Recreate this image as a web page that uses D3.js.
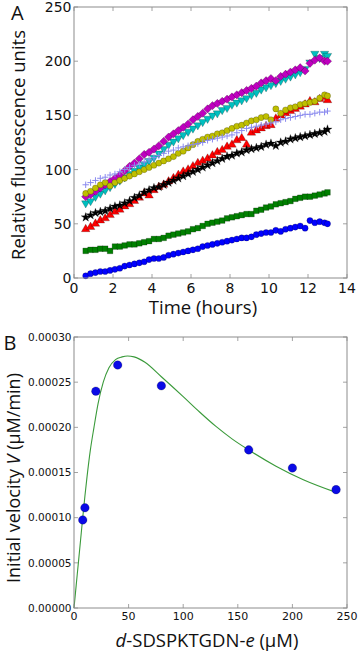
<!DOCTYPE html>
<html><head><meta charset="utf-8">
<script src="https://cdn.jsdelivr.net/npm/d3@7"></script>
<style>html,body{margin:0;padding:0;background:#fff;}svg{display:block;}</style>
</head><body>
<script>
// ---------- Panel A data ----------
const times = [0.6,0.85,1.1,1.35,1.6,1.85,2.1,2.35,2.6,2.85,3.1,3.35,3.6,3.85,4.1,4.35,4.6,4.85,5.1,5.35,5.6,5.85,6.1,6.35,6.6,6.85,7.1,7.35,7.6,7.85,8.1,8.35,8.6,8.85,9.1,9.35,9.6,9.85,10.1,10.35,10.6,10.85,11.1,11.35,11.6,11.85,12.1,12.35,12.6,12.85,13.0];
const blueCircles = [2,4,5,6,6,7,8,9,11,12,13,14,15,17,18,18,19,21,22,23,24,25,26,27,29,30,31,32,33,34,35,36,37,37,38,40,41,42,42,44,43,45,46,47,48,46,53,51,52,51,50];
const greenSquares = [25,26,26,27,27,25,29,29,30,31,31,32,33,34,36,36,37,39,40,41,42,43,45,46,48,50,51,52,53,55,56,57,58,59,59,62,63,65,66,68,69,70,71,73,74,75,75,76,77,78,79];
const redTriangles = [45,47,50,53,55,58,61,63,66,68,71,74,78,76,81,84,86,89,92,95,98,100,103,106,108,110,113,116,118,121,123,127,129,123,134,136,138,140,141,147,150,152,154,156,158,160,163,162,165,167,164];
const cyanTriangles = [69,71,75,78,81,84,87,90,93,96,99,102,105,108,111,115,119,123,126,129,132,135,138,141,144,147,150,152,155,157,160,162,164,166,169,171,174,176,178,180,182,184,186,188,190,193,199,207,203,207,205];
const magentaDiamonds = [75,77,80,83,86,89,92,95,99,103,106,110,114,116,119,122,126,130,133,136,139,142,146,149,152,156,159,161,163,165,167,169,171,173,175,177,180,182,184,182,186,188,190,192,194,191,198,201,203,200,200];
const yellowCircles = [78,80,83,86,88,85,88,90,92,94,96,98,100,102,104,106,108,110,112,115,117,120,123,126,128,130,131,133,134,136,138,140,141,143,145,146,148,149,146,156,152,155,157,158,160,161,162,163,166,169,168];
const blackStars = [56,58,60,61,62,64,66,67,69,71,74,76,79,81,83,84,86,88,90,92,94,96,98,100,102,104,106,108,110,112,113,115,116,118,119,120,121,123,124,122,125,126,128,129,130,131,132,133,134,135,137];
const purplePlus = [86,88,90,92,93,95,96,98,100,102,104,105,107,109,111,113,115,117,118,120,121,122,123,124,125,127,128,129,130,131,132,134,136,138,139,140,141,142,143,144,146,147,148,149,150,151,151,152,153,153,154];
const xTicksA = [0,2,4,6,8,10,12,14];
const yTicksA = [0,50,100,150,200,250];

// ---------- Panel B data ----------
const substrate = [8,10,20,40,80,160,200,240];
const velocity = [0.0000975,0.000111,0.000240,0.000269,0.000246,0.000175,0.000155,0.000131];
const fitX = [0,2,4,6,8,10,12,15,18.3,22,26.8,32,38,44,49,55,65,80,100,115,130,145,160,185,210,240];
const fitY = [0,0.000025,0.00005,0.000075,0.0001,0.000124,0.000146,0.000175,0.0002,0.000226,0.00025,0.000266,0.000275,0.000278,0.000279,0.000278,0.000272,0.000256,0.000234,0.000217,0.000201,0.000187,0.000175,0.000157,0.000142,0.000128];
const xTicksB = [0,50,100,150,200,250];
const yTicksB = [0,0.00005,0.0001,0.00015,0.0002,0.00025,0.0003];

const W = 358, H = 654;
const svg = d3.select("body").append("svg").attr("width", W).attr("height", H);
const frameColor = "#8c8c8c";

function frame(g, x, y, xt, yt, fmtX, fmtY, tickFontX, tickFontY, xLabelY) {
  const [x0, x1] = x.range(); const [y0, y1] = y.range();
  const ax = g.append("g");
  xt.forEach(v => {
    ax.append("line").attr("x1", x(v)).attr("x2", x(v)).attr("y1", y0).attr("y2", y0 - 4).attr("stroke", frameColor).attr("stroke-width", 0.8);
    ax.append("line").attr("x1", x(v)).attr("x2", x(v)).attr("y1", y1).attr("y2", y1 + 4).attr("stroke", frameColor).attr("stroke-width", 0.8);
    ax.append("text").attr("x", x(v)).attr("y", xLabelY).attr("text-anchor", "middle")
      .attr("font-family", "DejaVu Sans").attr("font-size", tickFontX).attr("fill", "#111").text(fmtX(v));
  });
  yt.forEach(v => {
    ax.append("line").attr("x1", x0).attr("x2", x0 + 4).attr("y1", y(v)).attr("y2", y(v)).attr("stroke", frameColor).attr("stroke-width", 0.8);
    ax.append("line").attr("x1", x1).attr("x2", x1 - 4).attr("y1", y(v)).attr("y2", y(v)).attr("stroke", frameColor).attr("stroke-width", 0.8);
    ax.append("text").attr("x", x0 - 2.5).attr("y", y(v)).attr("dy", "0.36em").attr("text-anchor", "end")
      .attr("font-family", "DejaVu Sans").attr("font-size", tickFontY).attr("fill", "#111").text(fmtY(v));
  });
  g.append("rect").attr("x", x0).attr("y", y1).attr("width", x1 - x0).attr("height", y0 - y1)
    .attr("fill", "none").attr("stroke", frameColor).attr("stroke-width", 1);
}

// ---------- Panel A ----------
const xA = d3.scaleLinear().domain([0, 14]).range([74, 347]);
const yA = d3.scaleLinear().domain([0, 250]).range([278, 7]);
const gA = svg.append("g");

const sym = (type, size) => d3.symbol().type(type).size(size)();
const plusPath = "M-3.2,0H3.2M0,-3.2V3.2";
const series = [
  {vals: blueCircles, fill: "#0000ff", path: sym(d3.symbolCircle, 30), rot: 0},
  {vals: greenSquares, fill: "#008000", path: sym(d3.symbolSquare, 32), rot: 0},
  {vals: redTriangles, fill: "#ff0000", path: sym(d3.symbolTriangle, 32), rot: 0},
  {vals: cyanTriangles, fill: "#00bfbf", path: sym(d3.symbolTriangle, 30), rot: 180},
  {vals: magentaDiamonds, fill: "#bf00bf", path: sym(d3.symbolSquare, 34), rot: 45},
  {vals: yellowCircles, fill: "#bfbf00", path: sym(d3.symbolCircle, 30), rot: 0},
  {vals: blackStars, fill: "#000000", path: sym(d3.symbolStar, 26), rot: 0},
  {vals: purplePlus, fill: "none", stroke: "#8a8aee", path: plusPath, rot: 0, plus: true}
];
const plotA = gA.append("g");
series.forEach(s => {
  plotA.append("g").selectAll("path").data(times.map((t, i) => [t, s.vals[i]])).join("path")
    .attr("d", s.path)
    .attr("transform", d => `translate(${xA(d[0])},${yA(d[1])}) rotate(${s.rot})`)
    .attr("fill", s.fill)
    .attr("stroke", s.plus ? s.stroke : "#000")
    .attr("stroke-width", s.plus ? 1 : 0.4)
    .attr("stroke-opacity", s.plus ? 1 : 0.55);
});
frame(gA, xA, yA, xTicksA, yTicksA, d3.format("d"), d3.format("d"), 14, 14, 292.5);

gA.append("text").attr("x", 203).attr("y", 314).attr("text-anchor", "middle")
  .attr("font-family", "Open Sans").attr("font-size", 18.5).attr("fill", "#111").text("Time (hours)");
gA.append("text").attr("transform", "translate(25,145) rotate(-90)").attr("text-anchor", "middle")
  .attr("font-family", "Open Sans").attr("font-size", 18.5).attr("fill", "#111").text("Relative fluorescence units");
svg.append("text").attr("x", 11).attr("y", 19.5).attr("font-family", "Open Sans").attr("font-size", 20).attr("fill", "#111").text("A");

// ---------- Panel B ----------
const xB = d3.scaleLinear().domain([0, 250]).range([74, 347]);
const yB = d3.scaleLinear().domain([0, 0.0003]).range([608, 337]);
const gB = svg.append("g");
const fitLine = d3.line().x(d => xB(d[0])).y(d => yB(d[1])).curve(d3.curveMonotoneX);
gB.append("path").datum(fitX.map((v, i) => [v, fitY[i]])).attr("d", fitLine)
  .attr("fill", "none").attr("stroke", "#3a9a3a").attr("stroke-width", 1.1);
gB.append("g").selectAll("circle").data(substrate.map((v, i) => [v, velocity[i]])).join("circle")
  .attr("cx", d => xB(d[0])).attr("cy", d => yB(d[1])).attr("r", 4.3)
  .attr("fill", "#0a0ae6").attr("stroke", "#000").attr("stroke-width", 0.4).attr("stroke-opacity", 0.5);
frame(gB, xB, yB, xTicksB, yTicksB, d3.format("d"), d3.format(".5f"), 11, 10.5, 620);

const xt = gB.append("text").attr("x", 207).attr("y", 646.5).attr("text-anchor", "middle")
  .attr("font-family", "Open Sans").attr("font-size", 18.5).attr("fill", "#111");
xt.append("tspan").attr("font-style", "italic").text("d");
xt.append("tspan").text("-SDSPKTGDN-");
xt.append("tspan").attr("font-style", "italic").text("e");
xt.append("tspan").text(" (μM)");
const yt = gB.append("text").attr("transform", "translate(19.5,478) rotate(-90)").attr("text-anchor", "middle")
  .attr("font-family", "Open Sans").attr("font-size", 18).attr("fill", "#111");
yt.append("tspan").text("Initial velocity ");
yt.append("tspan").attr("font-style", "italic").text("V");
yt.append("tspan").text(" (μM/min)");
svg.append("text").attr("x", 3.5).attr("y", 350).attr("font-family", "Open Sans").attr("font-size", 20).attr("fill", "#111").text("B");
</script>
</body></html>
